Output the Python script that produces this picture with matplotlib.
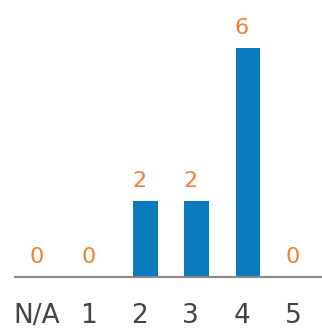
import matplotlib
matplotlib.use("Agg")
import matplotlib.pyplot as plt

# ratings histogram
categories = ["N/A", "1", "2", "3", "4", "5"]
counts = [0, 0, 2, 2, 6, 0]

bar_color = "#0a7bbd"
label_color = "#f07f32"

fig = plt.figure(figsize=(3.22, 3.33), dpi=100)
ax = fig.add_axes([15 / 322, 56 / 333, 307 / 322, 250 / 333])

x = list(range(len(categories)))
# bars sit a little right of the tick
bars = ax.bar([i - 0.12 for i in x], counts, width=0.48, align="edge",
              color=bar_color, zorder=2)

for xi, val in zip(x, counts):
    ax.text(xi, val + 0.26, str(val),
            ha="center", va="bottom", fontsize=16, color=label_color)

ax.set_xlim(-0.43, 5.57)
ax.set_ylim(0, 6.55)

ax.set_xticks(x)
ax.set_xticklabels(categories, fontsize=19, color="#444444")
ax.tick_params(axis="x", length=0, pad=19)
ax.set_yticks([])

for side in ["top", "right", "left"]:
    ax.spines[side].set_visible(False)
ax.spines["bottom"].set_color("#888888")
ax.spines["bottom"].set_linewidth(1.5)

fig.savefig("out.png", dpi=100)
plt.close(fig)
